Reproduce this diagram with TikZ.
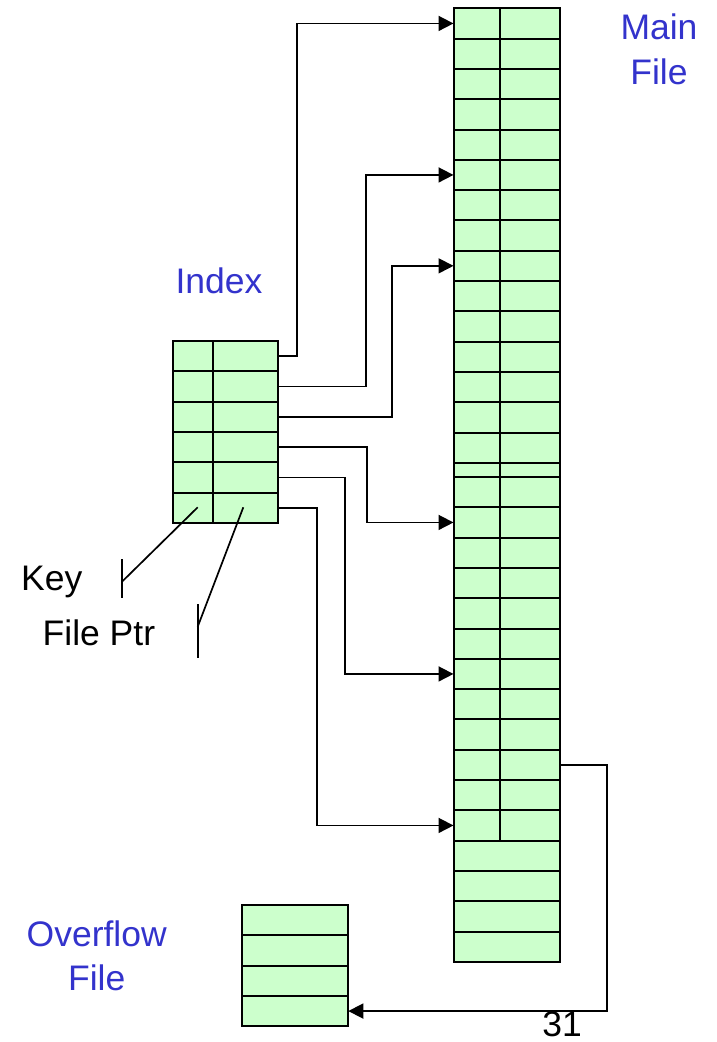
\documentclass[tikz,border=0pt]{standalone}
\usepackage{fontspec}
\setmainfont{Liberation Sans}
\usetikzlibrary{arrows.meta}
\definecolor{cellgreen}{RGB}{204,255,204}
\definecolor{lblue}{RGB}{51,51,204}
\begin{document}
\begin{tikzpicture}[x=1pt,y=-1pt,
  cell/.style={draw=black, fill=cellgreen, line width=2pt, minimum width=106pt,
    minimum height=30.3pt, inner sep=0pt, outer sep=0pt, anchor=north west},
  conn/.style={draw=black, line width=1.7pt, -{Triangle[length=15pt,width=15pt]}},
  link/.style={draw=black, line width=1.7pt},
  divider/.style={draw=black, line width=2pt},
  lbl/.style={font=\fontsize{35.5}{40}\selectfont, inner sep=0pt, anchor=base},
  blbl/.style={lbl, text=lblue}]
\useasboundingbox (0,0) rectangle (716,1042);

% Main file
\foreach \k in {1,...,15}
  \node[cell] (mr\k) at (453.5,{8.3+30.3*(\k-1)}) {};
\node[cell, minimum height=14.2pt] (mrs) at (453.5,462.8) {};
\foreach \k in {1,...,16}
  \node[cell] (ml\k) at (453.5,{477+30.3*(\k-1)}) {};
\draw[divider] (499.5,8.3) -- (499.5,840.6);

% Index
\foreach \k in {1,...,6}
  \node[cell, minimum width=105.6pt] (ir\k) at (172.7,{341+30.3*(\k-1)}) {};
\draw[divider] (212.7,341) -- (212.7,522.8);

% Overflow file
\foreach \k in {1,...,4}
  \node[cell] (of\k) at (242.3,{905+30.3*(\k-1)}) {};

% Connectors
\draw[conn] (ir1.east) -- ++(18.4,0) |- (mr1.west);
\draw[conn] (ir2.east) -- ++(87.7,0) |- (mr6.west);
\draw[conn] (ir3.east) -- ++(113.4,0) |- (mr9.west);
\draw[conn] (ir4.east) -- ++(88.4,0) |- (ml2.west);
\draw[conn] (ir5.east) -- ++(67,0) |- (ml7.west);
\draw[conn] (ir6.east) -- ++(38.4,0) |- (ml12.west);
\draw[conn] (ml10.east) -- ++(47.7,0) |- (of4.east);

% Callouts
\coordinate (keyA) at (197.7,507.3);
\coordinate (keyB) at (122,581.7);
\coordinate (keyT1) at (122,559);
\coordinate (keyT2) at (122,598.3);
\coordinate (ptrA) at (243.3,507.3);
\coordinate (ptrB) at (197.7,626.7);
\coordinate (ptrT1) at (197.7,604.3);
\coordinate (ptrT2) at (197.7,658.3);
\draw[link] (keyA) -- (keyB);
\draw[link] (keyT1) -- (keyT2);
\draw[link] (ptrA) -- (ptrB);
\draw[link] (ptrT1) -- (ptrT2);

% Labels
\node[lbl, anchor=base west] (key) at (21,590) {Key};
\node[lbl, anchor=base west] (fileptr) at (42.5,645) {File Ptr};
\node[blbl] (index) at (219,293.3) {Index};
\node[blbl] (mainA) at (659,39.3) {Main};
\node[blbl] (mainB) at (659,84) {File};
\node[blbl] (ovA) at (96.7,946.7) {Overflow};
\node[blbl] (ovB) at (96.7,990) {File};
\node[lbl] (page) at (562,1036) {31};
\end{tikzpicture}
\end{document}
